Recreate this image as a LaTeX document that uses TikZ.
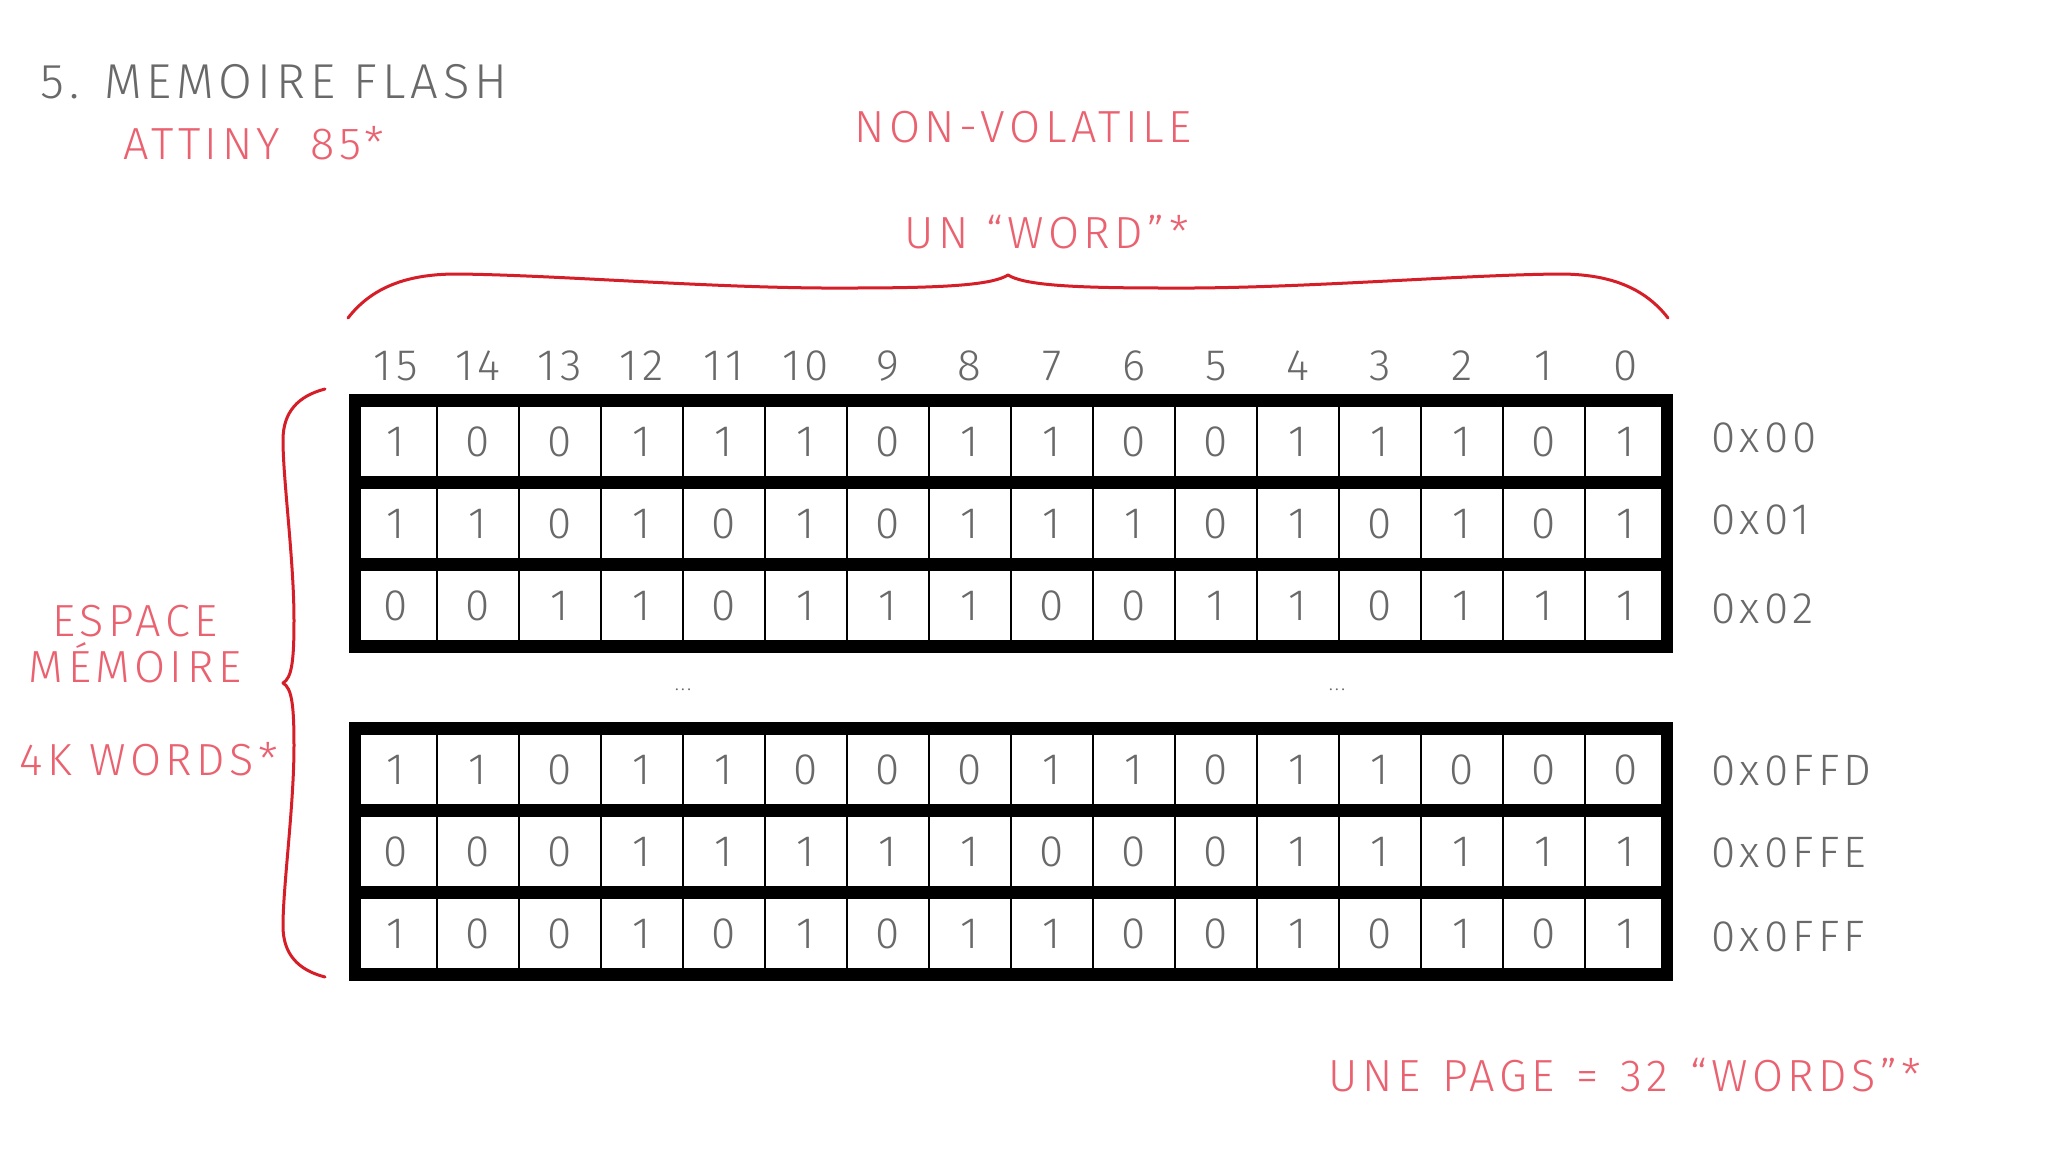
\documentclass[tikz,border=0pt]{standalone}
\usepackage{fontspec}
\IfFontExistsTF{Fira Sans Light}{\setmainfont{Fira Sans Light}[LetterSpace=10]}{\setmainfont{Fira Sans}[LetterSpace=10]}
\definecolor{txtgray}{RGB}{105,105,105}
\definecolor{txtred}{RGB}{234,98,112}
\definecolor{bracered}{RGB}{214,30,40}
\newcommand\mywidesp{\spaceskip 22pt plus 2pt minus 2pt\relax}
\newcommand\mywidersp{\spaceskip 30pt plus 2pt minus 2pt\relax}
\tikzset{
  gtext/.style={text=txtgray, inner sep=0pt, anchor=base, font=\fontsize{44}{44}\selectfont},
  rtext/.style={text=txtred, inner sep=0pt, anchor=base, font=\fontsize{45}{45}\selectfont},
  widetext/.style={font=\fontsize{45}{45}\selectfont\mywidesp},
  widertext/.style={font=\fontsize{45}{45}\selectfont\mywidersp},
  cell/.style={draw=black, line width=2pt, fill=white, minimum width=82pt, minimum height=82pt,
    inner sep=0pt, outer sep=0pt, text=txtgray, font=\fontsize{44}{44}\selectfont},
  gridframe/.style={draw=black, line width=12.4pt},
  bracestroke/.style={draw=bracered, line width=3pt, line cap=round, line join=round},
}
\begin{document}
\begin{tikzpicture}[x=1pt, y=-1pt]
\useasboundingbox (0,0) rectangle (2048,1152);
\fill[white] (0,0) rectangle (2048,1152);

% titles
\node[gtext, font=\fontsize{49}{49}\selectfont] (title) at (274,98) {5. MEMOIRE FLASH};
\node[rtext, widertext] (attiny) at (254,159) {ATTINY 85*};
\node[rtext] (nonvol) at (1023,142) {NON-VOLATILE};
\node[rtext] (word) at (1047,248) {UN “WORD”*};
\node[rtext] (espace) at (135,636) {ESPACE};
\node[rtext] (memoire) at (135,682) {MÉMOIRE};
\node[rtext] (kwords) at (149,775) {4K WORDS*};
\node[rtext, widetext] (page) at (1625,1091) {UNE PAGE = 32 “WORDS”*};

% bit numbers
\foreach \k in {0,...,15} {
  \pgfmathtruncatemacro{\n}{15-\k}
  \node[gtext] (bit\n) at ({395.7+82*\k},380) {\n};
}

% cells
\foreach \bits [count=\r from 0] in {
  {1,0,0,1,1,1,0,1,1,0,0,1,1,1,0,1},
  {1,1,0,1,0,1,0,1,1,1,0,1,0,1,0,1},
  {0,0,1,1,0,1,1,1,0,0,1,1,0,1,1,1},
  {1,1,0,1,1,0,0,0,1,1,0,1,1,0,0,0},
  {0,0,0,1,1,1,1,1,0,0,0,1,1,1,1,1},
  {1,0,0,1,0,1,0,1,1,0,0,1,0,1,0,1}} {
  \pgfmathsetmacro{\yy}{\r<3 ? 441.6+82*\r : 769.5+82*(\r-3)}
  \foreach \b [count=\k from 0] in \bits {
    \node[cell] (c\r-\k) at ({395.7+82*\k},\yy) {\b};
  }
}

% thick frames
\draw[gridframe] (c0-0.north west) rectangle (c2-15.south east);
\draw[gridframe] (c0-0.south west) -- (c0-15.south east);
\draw[gridframe] (c1-0.south west) -- (c1-15.south east);
\draw[gridframe] (c3-0.north west) rectangle (c5-15.south east);
\draw[gridframe] (c3-0.south west) -- (c3-15.south east);
\draw[gridframe] (c4-0.south west) -- (c4-15.south east);

% dots
\node[gtext, font=\fontsize{20}{20}\selectfont] (dotsA) at (683,690) {...};
\node[gtext, font=\fontsize{20}{20}\selectfont] (dotsB) at (1337,690) {...};

% addresses
\node[gtext, anchor=base west] (a0) at (1711,452) {0x00};
\node[gtext, anchor=base west] (a1) at (1711,534) {0x01};
\node[gtext, anchor=base west] (a2) at (1711,623) {0x02};
\node[gtext, anchor=base west] (a3) at (1711,785) {0x0FFD};
\node[gtext, anchor=base west] (a4) at (1711,867) {0x0FFE};
\node[gtext, anchor=base west] (a5) at (1711,951) {0x0FFF};

% top brace
\draw[bracestroke] (348,318) .. controls (375,283) and (415,274) .. (457,274)
  .. controls (560,275) and (720,289) .. (850,288)
  .. controls (945,288) and (992,285) .. (1008,275)
  .. controls (1024,285) and (1071,288) .. (1166,288)
  .. controls (1296,289) and (1456,275) .. (1559,274)
  .. controls (1601,274) and (1641,283) .. (1668,318);

% left brace
\draw[bracestroke] (325,389) .. controls (298,396) and (283,412) .. (283,440)
  .. controls (283,480) and (294,560) .. (294,620)
  .. controls (294,660) and (292,678) .. (283,683)
  .. controls (292,688) and (294,706) .. (294,746)
  .. controls (294,806) and (283,886) .. (283,926)
  .. controls (283,954) and (298,970) .. (325,977);
\end{tikzpicture}
\end{document}
